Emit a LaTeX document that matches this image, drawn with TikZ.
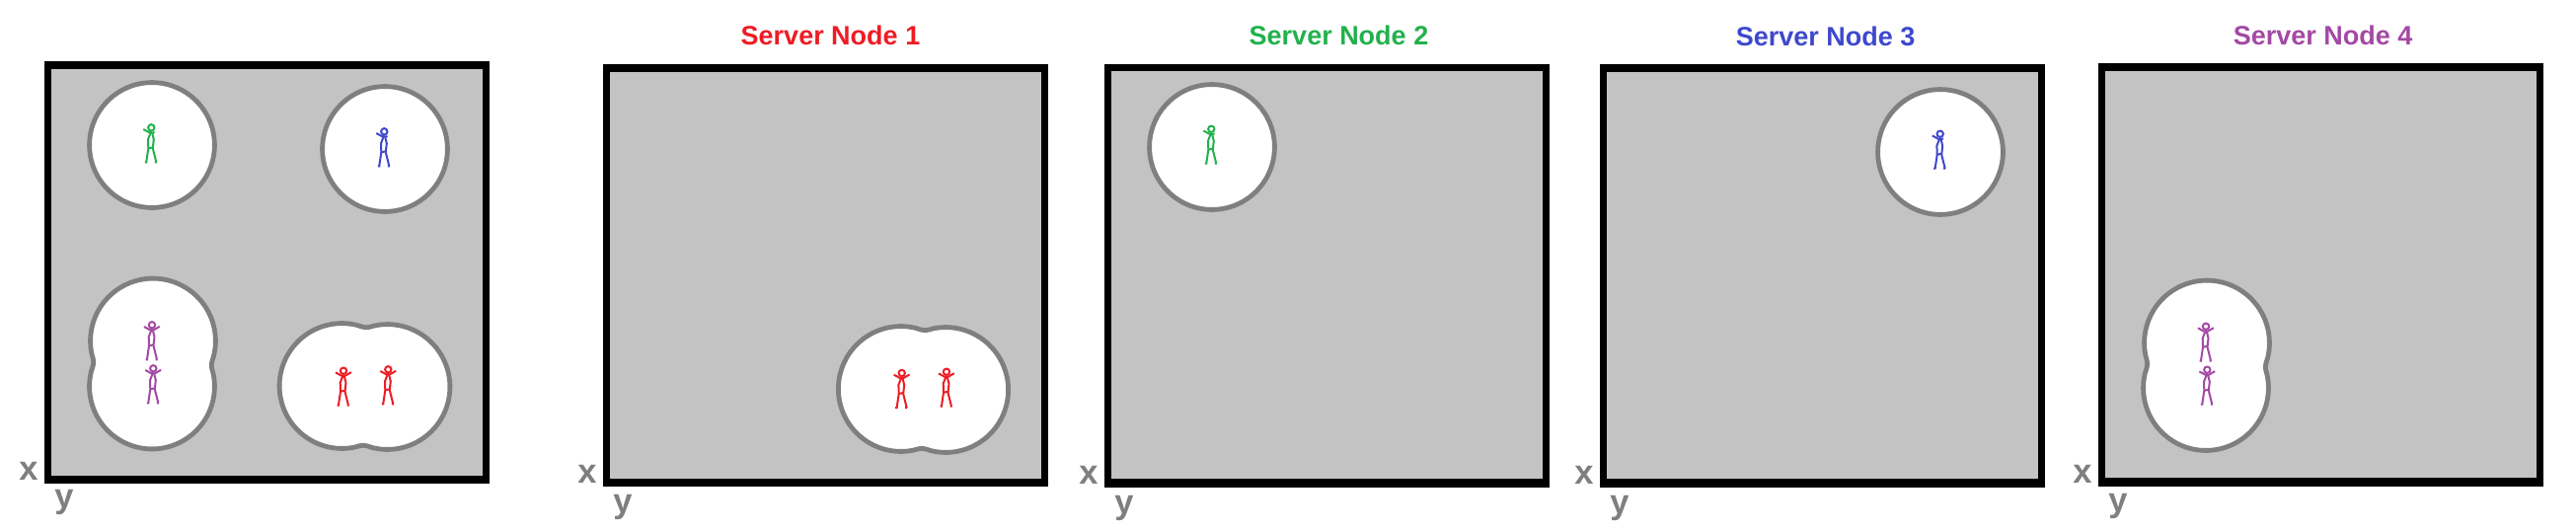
\documentclass[tikz,border=0pt]{standalone}
\usepackage{fontspec}
\setmainfont{Liberation Sans}
\definecolor{pRed}{HTML}{ED1C24}
\definecolor{pGreen}{HTML}{22B14C}
\definecolor{pBlue}{HTML}{3F48CC}
\definecolor{pPurple}{HTML}{A349A4}
\definecolor{pGray}{HTML}{7F7F7F}
\definecolor{pFill}{HTML}{C3C3C3}
\tikzset{
  axislabel/.style={anchor=base,inner sep=0pt,text=pGray,font=\fontsize{34.5}{40}\selectfont\bfseries},
  titlelabel/.style={anchor=base,inner sep=0pt,font=\fontsize{27}{30}\selectfont\bfseries},
  stickline/.style={line width=2pt,line join=round},
  zoneline/.style={draw=pGray,fill=white,line width=4.8pt,line join=round},
}
\newcommand\panelbox[8]{%
  \fill[black] (#1,#2) rectangle (#3,#4);
  \fill[pFill] (#5,#6) rectangle (#7,#8);}
\newcommand\zoneone[2]{%
  \path[zoneline] (#1,#2) circle[radius=63.4];}
\newcommand\zonetwo[4]{%
  \pgfmathsetmacro\zdx{#3-#1}\pgfmathsetmacro\zdy{#4-#2}%
  \pgfmathsetmacro\zphi{atan2(\zdy,\zdx)}%
  \pgfmathsetmacro\zalpha{acos(sqrt(\zdx*\zdx+\zdy*\zdy)/126.8)}%
  \pgfmathsetmacro\zas{\zphi+\zalpha}\pgfmathsetmacro\zae{\zphi-\zalpha+360}%
  \pgfmathsetmacro\zbs{\zphi+180+\zalpha}\pgfmathsetmacro\zbe{\zphi+180-\zalpha+360}%
  \pgfmathsetmacro\zasd{\zas+8}\pgfmathsetmacro\zaed{\zae-8}%
  \pgfmathsetmacro\zbsd{\zbs+8}\pgfmathsetmacro\zbed{\zbe-8}%
  \path[zoneline] plot[domain=\zasd:\zaed,samples=90] ({#1+63.4*cos(\x)},{#2+63.4*sin(\x)})
    .. controls ({#1+63.4*cos(\zae)},{#2+63.4*sin(\zae)}) and ({#1+63.4*cos(\zae)},{#2+63.4*sin(\zae)})
    .. ({#3+63.4*cos(\zbsd)},{#4+63.4*sin(\zbsd)})
    -- plot[domain=\zbsd:\zbed,samples=90] ({#3+63.4*cos(\x)},{#4+63.4*sin(\x)})
    .. controls ({#1+63.4*cos(\zas)},{#2+63.4*sin(\zas)}) and ({#1+63.4*cos(\zas)},{#2+63.4*sin(\zas)})
    .. ({#1+63.4*cos(\zasd)},{#2+63.4*sin(\zasd)}) -- cycle;}
\newcommand\stickbody[3]{%
  \begin{scope}[shift={(#1,#2)},stickline,draw=#3]
    \draw (0,0) circle[radius=3.2];
    \draw (0,3) -- (0,6);
    \draw (-1,6) -- (-3.3,12) -- (-3,21) -- (-5,34.5) (-6.5,35) -- (-4,35);
    \draw (1,6) -- (2.5,12) -- (1.5,21) -- (5,35) (3.5,35) -- (5.5,35);
    \draw (-3,21) -- (1.5,20);
    \draw (0,6) -- (-8,1.7);
  \end{scope}}
\newcommand\stickone[3]{%
  \stickbody{#1}{#2}{#3}
  \draw[stickline,draw=#3,shift={(#1,#2)}] (0,6) -- (3.2,4.5);}
\newcommand\stickboth[3]{%
  \stickbody{#1}{#2}{#3}
  \draw[stickline,draw=#3,shift={(#1,#2)}] (0,6) -- (7.8,1.5);}
\begin{document}
\begin{tikzpicture}[x=1pt,y=-1pt]
\useasboundingbox (0,0) rectangle (2610,538);
% overview
\panelbox{45}{62}{496}{490}{52}{70}{489}{482}
\zoneone{154}{147}
\zoneone{390}{151}
\zonetwo{155}{345.5}{154}{391.5}
\zonetwo{346.5}{391}{392.5}{392}
\stickone{153.3}{129.3}{pGreen}
\stickone{389.3}{133.3}{pBlue}
\stickboth{154}{329.3}{pPurple}
\stickboth{155.3}{373.3}{pPurple}
\stickboth{348}{375.7}{pRed}
\stickboth{393.3}{374.3}{pRed}
\node[axislabel] (x0) at (29,486) {x};
\node[axislabel] (y0) at (65,514) {y};
% server 1
\panelbox{611}{65}{1062}{493}{618}{73}{1055}{485}
\zonetwo{912.8}{394}{958.2}{395}
\stickboth{913.7}{378}{pRed}
\stickboth{959}{376.7}{pRed}
\node[titlelabel,text=pRed] (t1) at (841.5,45.5) {Server Node 1};
\node[axislabel] (x1) at (595,489) {x};
\node[axislabel] (y1) at (631,519) {y};
% server 2
\panelbox{1119}{65}{1570}{494}{1126}{72}{1563}{485}
\zoneone{1228}{149}
\stickone{1227.3}{130.7}{pGreen}
\node[titlelabel,text=pGreen] (t2) at (1356.5,45) {Server Node 2};
\node[axislabel] (x2) at (1103,490) {x};
\node[axislabel] (y2) at (1139,520) {y};
% server 3
\panelbox{1621}{65}{2072}{494}{1628}{73}{2065}{485}
\zoneone{1966}{154}
\stickone{1965.7}{135.7}{pBlue}
\node[titlelabel,text=pBlue] (t3) at (1849.7,46.5) {Server Node 3};
\node[axislabel] (x3) at (1605,490) {x};
\node[axislabel] (y3) at (1641,520) {y};
% server 4
\panelbox{2126}{64}{2577}{493}{2133}{72}{2570}{484}
\zonetwo{2236}{347.5}{2235}{393}
\stickboth{2235}{330.7}{pPurple}
\stickboth{2236.3}{374.7}{pPurple}
\node[titlelabel,text=pPurple] (t4) at (2353.7,45.5) {Server Node 4};
\node[axislabel] (x4) at (2110,489) {x};
\node[axislabel] (y4) at (2146,518) {y};
\end{tikzpicture}
\end{document}
